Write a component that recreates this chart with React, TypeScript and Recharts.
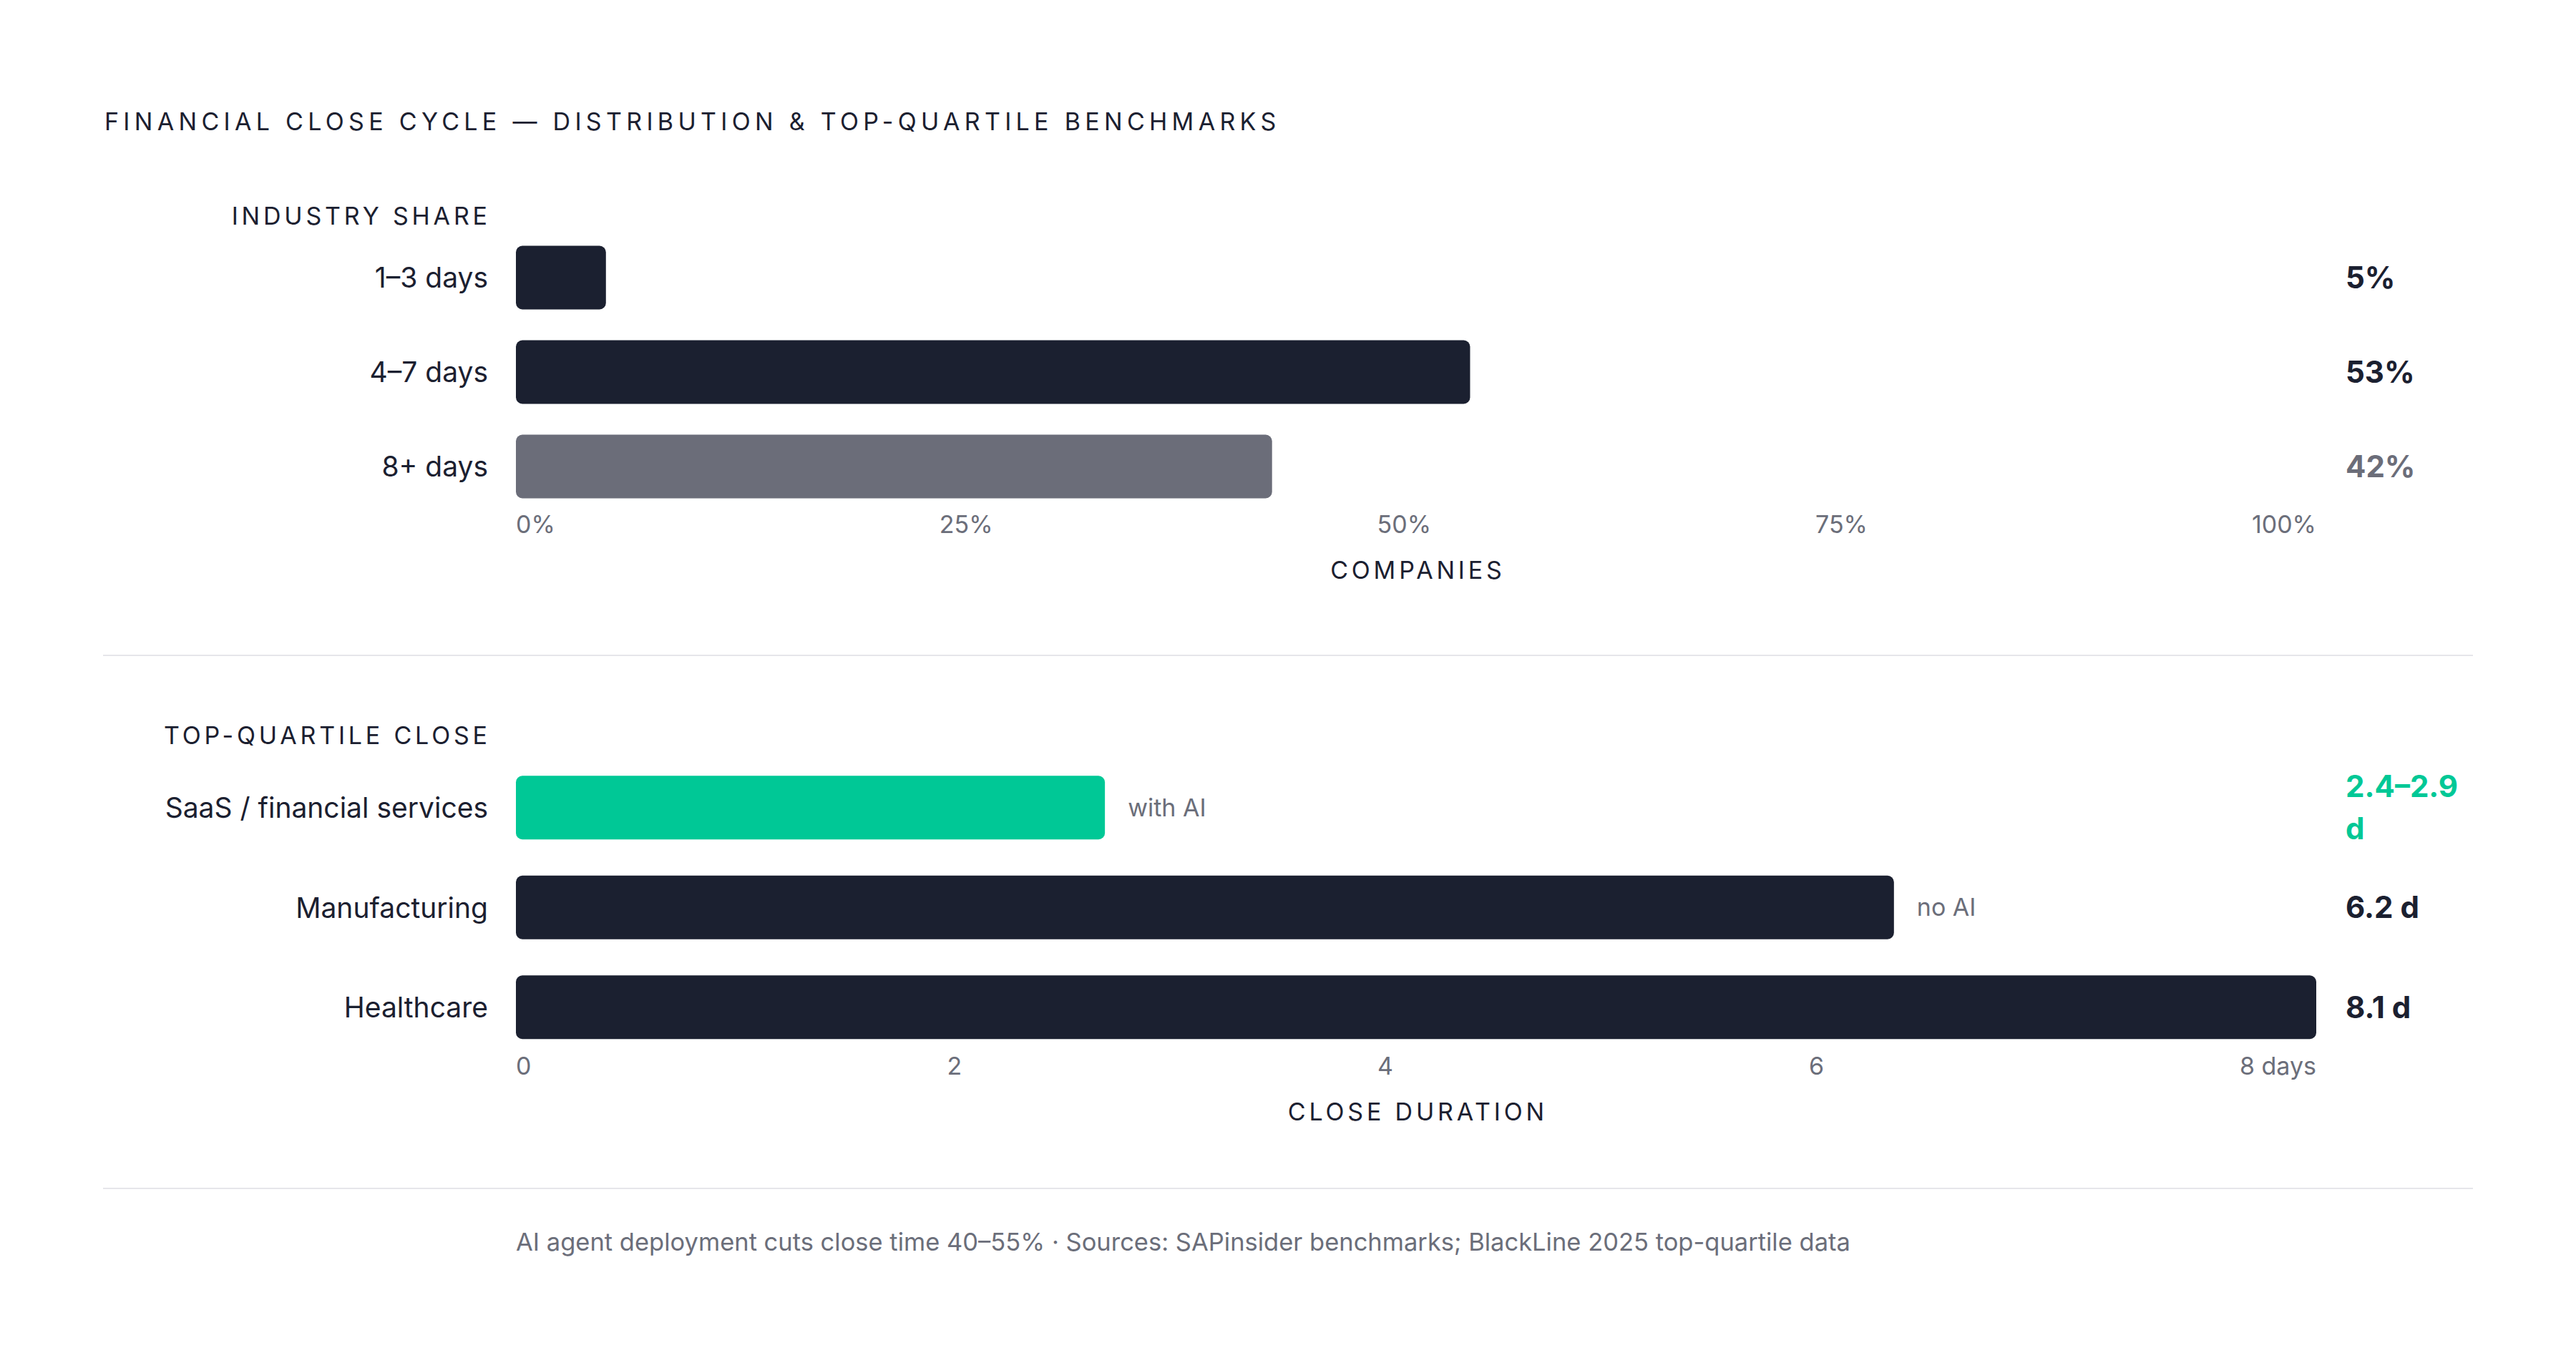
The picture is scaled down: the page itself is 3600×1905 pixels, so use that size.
import React from 'react';
import { BarChart, Bar, XAxis, YAxis, LabelList, Cell } from 'recharts';

const FONT = 'Inter, "Noto Sans", sans-serif';
const INK = '#1b2030';
const MUTED = '#6b6e7a';
const SLATE = '#6b6d79';
const GREEN = '#00c896';
const RULE = '#e6e6ea';

// Industry share by close duration
const shareBuckets = ['1–3 days', '4–7 days', '8+ days'];
const shareValues = [5, 53, 42];
const shareLabels = ['5%', '53%', '42%'];
const shareColors = [INK, INK, SLATE];
const shareTickValues = [0, 25, 50, 75, 100];
const shareTickLabels = ['0%', '25%', '50%', '75%', '100%'];

// Top-quartile close duration (days)
const sectors = ['SaaS / financial services', 'Manufacturing', 'Healthcare'];
const closeDays = [2.65, 6.2, 8.1];
const closeLabels = ['2.4–2.9 d', '6.2 d', '8.1 d'];
const closeNotes = ['with AI', 'no AI', ''];
const closeColors = [GREEN, INK, INK];
const dayTickValues = [0, 2, 4, 6, 8];
const dayTickLabels = ['0', '2', '4', '6', '8 days'];

const PAGE_W = 3600;
const PAGE_H = 1905;
const PLOT_L = 721;
const PLOT_R = 3237;
const VALUE_X = 3278;
const VALUE_W = 178;
const BAR_H = 89;
const TICK_SIZE = 34;
const VALUE_SIZE = 42;
const VALUE_LH = 59;

let ctx: CanvasRenderingContext2D | null = null;
function textWidth(t: string, font: string) {
  if (!ctx) ctx = document.createElement('canvas').getContext('2d');
  if (!ctx) return t.length * 18;
  ctx.font = font;
  return ctx.measureText(t).width;
}

// greedy word wrap, like a narrow html column
function wrap(text: string, font: string, maxW: number) {
  const words = text.split(' ');
  const lines: string[] = [];
  let cur = '';
  words.forEach(w => {
    const next = cur ? cur + ' ' + w : w;
    if (cur && textWidth(next, font) > maxW) {
      lines.push(cur);
      cur = w;
    } else {
      cur = next;
    }
  });
  if (cur) lines.push(cur);
  return lines;
}

// tick labels laid out like a flex row with space-between
function spreadTick(labels: string[], dy: number) {
  return (props: any) => {
    const { y, index } = props;
    const font = `400 ${TICK_SIZE}px Inter`;
    const widths = labels.map(l => textWidth(l, font));
    const total = widths.reduce((a, b) => a + b, 0);
    const gap = (PLOT_R - PLOT_L - total) / (labels.length - 1);
    let x = PLOT_L;
    for (let i = 0; i < index; i++) x += widths[i] + gap;
    return (
      <text x={x} y={y + dy} textAnchor="start" fill={MUTED} fontSize={TICK_SIZE} fontFamily={FONT}>
        {labels[index]}
      </text>
    );
  };
}

const RowTick = (props: any) => {
  const { x, y, payload } = props;
  return (
    <text x={x} y={y} dy="0.36em" textAnchor="end" fill={INK} fontSize={39} fontFamily={FONT}>
      {payload.value}
    </text>
  );
};

function valueLabel(colors: string[]) {
  return (props: any) => {
    const { y, height, value, index } = props;
    const lines = wrap(String(value), `700 ${VALUE_SIZE}px Inter`, VALUE_W);
    const cy = y + height / 2;
    const first = cy - ((lines.length - 1) / 2) * VALUE_LH + 0.36 * VALUE_SIZE;
    return (
      <text fill={colors[index]} fontSize={VALUE_SIZE} fontWeight={700} fontFamily={FONT} textAnchor="start">
        {lines.map((l, i) => (
          <tspan key={i} x={VALUE_X} y={first + i * VALUE_LH}>
            {l}
          </tspan>
        ))}
      </text>
    );
  };
}

const NoteLabel = (props: any) => {
  const { x, y, width, height, value } = props;
  if (!value) return null;
  return (
    <text x={x + width + 32} y={y + height / 2} dy="0.36em" fill={MUTED} fontSize={TICK_SIZE} fontFamily={FONT}>
      {value}
    </text>
  );
};

interface SectionProps {
  top: number;
  height: number;
  marginTop: number;
  marginBottom: number;
  rows: string[];
  values: number[];
  labels: string[];
  colors: string[];
  notes?: string[];
  tickValues: number[];
  tickLabels: string[];
  domainMax: number;
  tickDy: number;
}

function SectionChart(p: SectionProps) {
  const data = p.rows.map((name, i) => ({
    name,
    value: p.values[i],
    label: p.labels[i],
    note: p.notes ? p.notes[i] : '',
  }));
  return (
    <div style={{ position: 'absolute', left: 0, top: p.top }}>
      <BarChart
        width={PAGE_W}
        height={p.height}
        layout="vertical"
        data={data}
        margin={{ top: p.marginTop, right: PAGE_W - PLOT_R, bottom: p.marginBottom, left: 0 }}
      >
        <YAxis
          type="category"
          dataKey="name"
          width={PLOT_L}
          axisLine={false}
          tickLine={false}
          tickSize={0}
          tickMargin={39}
          interval={0}
          tick={RowTick}
        />
        <XAxis
          type="number"
          domain={[0, p.domainMax]}
          ticks={p.tickValues}
          interval={0}
          axisLine={false}
          tickLine={false}
          tickSize={0}
          tickMargin={0}
          height={60}
          tick={spreadTick(p.tickLabels, p.tickDy)}
        />
        <Bar dataKey="value" barSize={BAR_H} radius={9} isAnimationActive={false}>
          {data.map((d, i) => (
            <Cell key={d.name} fill={p.colors[i]} />
          ))}
          <LabelList dataKey="label" content={valueLabel(p.colors)} />
          <LabelList dataKey="note" content={NoteLabel} />
        </Bar>
      </BarChart>
    </div>
  );
}

const caps = (size: number, spacing: number): React.CSSProperties => ({
  position: 'absolute',
  fontFamily: FONT,
  fontSize: size,
  lineHeight: 1,
  letterSpacing: spacing,
  color: INK,
  whiteSpace: 'nowrap',
});

export default function App() {
  const titleLs = 6.3;
  const ls = 4.8;
  return (
    <div
      style={{
        position: 'absolute',
        left: 0,
        top: 0,
        width: PAGE_W,
        height: PAGE_H,
        background: '#ffffff',
        overflow: 'hidden',
        fontFamily: FONT,
      }}
    >
      <div style={{ ...caps(34, titleLs), left: 146, top: 170 - 17 }}>
        FINANCIAL CLOSE CYCLE — DISTRIBUTION &amp; TOP-QUARTILE BENCHMARKS
      </div>

      <div style={{ ...caps(34, ls), right: PAGE_W - 681 - ls, top: 302 - 17 }}>INDUSTRY SHARE</div>

      <SectionChart
        top={300}
        height={480}
        marginTop={21.5}
        marginBottom={2.5}
        rows={shareBuckets}
        values={shareValues}
        labels={shareLabels}
        colors={shareColors}
        tickValues={shareTickValues}
        tickLabels={shareTickLabels}
        domainMax={100}
        tickDy={27.5}
      />

      <div style={{ ...caps(34, ls), left: (PLOT_L + PLOT_R) / 2 + ls / 2, top: 797 - 17, transform: 'translateX(-50%)' }}>
        COMPANIES
      </div>

      <div style={{ position: 'absolute', left: 144, top: 915, width: 3312, height: 2, background: RULE }} />

      <div style={{ ...caps(34, ls), right: PAGE_W - 681 - ls, top: 1028 - 17 }}>TOP-QUARTILE CLOSE</div>

      <SectionChart
        top={1040}
        height={500}
        marginTop={19.25}
        marginBottom={2.25}
        rows={sectors}
        values={closeDays}
        labels={closeLabels}
        colors={closeColors}
        notes={closeNotes}
        tickValues={dayTickValues}
        tickLabels={dayTickLabels}
        domainMax={8.1}
        tickDy={24}
      />

      <div style={{ ...caps(34, ls), left: (PLOT_L + PLOT_R) / 2 + ls / 2, top: 1554 - 17, transform: 'translateX(-50%)' }}>
        CLOSE DURATION
      </div>

      <div style={{ position: 'absolute', left: 144, top: 1660, width: 3312, height: 2, background: RULE }} />

      <div
        style={{
          position: 'absolute',
          left: PLOT_L,
          top: 1736 - 17.25,
          fontFamily: FONT,
          fontSize: 34.5,
          lineHeight: 1,
          color: MUTED,
          whiteSpace: 'nowrap',
        }}
      >
        AI agent deployment cuts close time 40–55% · Sources: SAPinsider benchmarks; BlackLine 2025 top-quartile data
      </div>
    </div>
  );
}
